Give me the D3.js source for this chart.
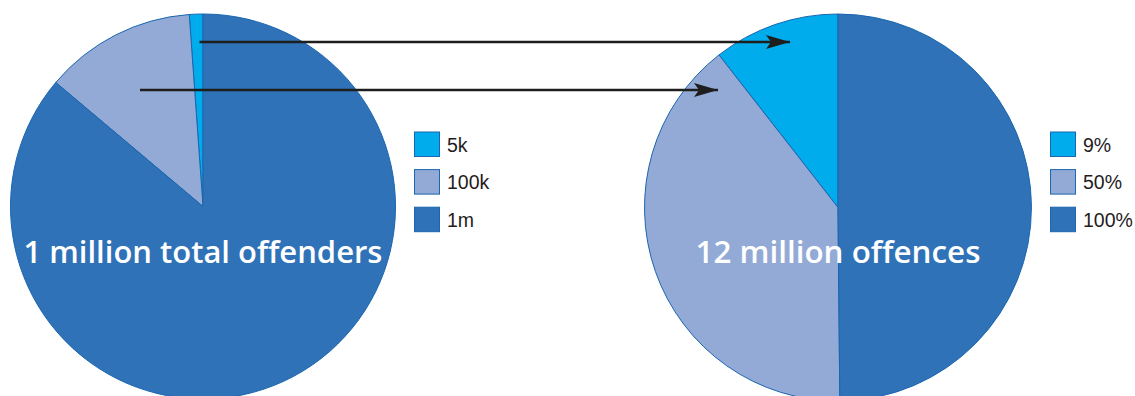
<!DOCTYPE html>
<html>
<head>
<meta charset="utf-8">
<script src="https://cdn.jsdelivr.net/npm/d3@7"></script>
<style>
  html, body { margin: 0; padding: 0; background: #fff; overflow: hidden; }
  svg { display: block; }
</style>
</head>
<body>
<svg id="chart" width="1135" height="396"></svg>
<script>
// ---- data ----
const offenderLabels = ["5k", "100k", "1m"];
const offenderShares = [1.14, 12.72, 86.14];      // share of pie (%) as drawn
const offenceLabels = ["9%", "50%", "100%"];
const offenceShares = [10.55, 39.6, 49.85];       // share of pie (%) as drawn
const pieTitles = ["1 million total offenders", "12 million offences"];
const colors = ["#00acec", "#94aad6", "#2f72b7"];

const svg = d3.select("#chart");

const defs = svg.append("defs");
defs.append("marker")
  .attr("id", "arrow")
  .attr("viewBox", "0 0 24 14")
  .attr("refX", 24).attr("refY", 7)
  .attr("markerWidth", 24).attr("markerHeight", 14)
  .attr("markerUnits", "userSpaceOnUse")
  .attr("orient", "auto")
  .append("path")
  .attr("d", "M0,0 L24,7 L0,14 L5,7 Z")
  .attr("fill", "#1e1e1e");

const pie = d3.pie().sort(null).value(d => d).startAngle(0).endAngle(-2 * Math.PI);

function drawPie(cx, cy, r, values, title, titleWidth, textY) {
  const g = svg.append("g").attr("transform", `translate(${cx},${cy})`);
  const arc = d3.arc().innerRadius(0).outerRadius(r);
  g.selectAll("path.slice")
    .data(pie(values))
    .join("path")
    .attr("class", "slice")
    .attr("d", arc)
    .attr("fill", (d, i) => colors[i])
    .attr("stroke", "#1a66b0")
    .attr("stroke-width", 1);
  const t = g.append("text")
    .attr("x", 0).attr("y", textY - cy)
    .attr("text-anchor", "middle")
    .attr("font-family", "'Open Sans', sans-serif")
    .attr("font-weight", 600)
    .attr("font-size", 28)
    .attr("fill", "#ffffff")
    .text(title);
  const len = t.node().getComputedTextLength();
  t.attr("font-size", 28 * titleWidth / len);
  return g;
}

drawPie(203, 206.5, 192.5, offenderShares, pieTitles[0], 359, 263);
drawPie(838, 207.5, 193.5, offenceShares, pieTitles[1], 285, 263);

function drawLegend(x, y0, labels) {
  const g = svg.append("g").attr("transform", `translate(${x},${y0})`);
  const rows = g.selectAll("g.row").data(labels).join("g")
    .attr("class", "row")
    .attr("transform", (d, i) => `translate(0,${i * 37.6})`);
  rows.append("rect")
    .attr("x", 0.5).attr("y", 0.5)
    .attr("width", 25).attr("height", 24.5)
    .attr("fill", (d, i) => colors[i])
    .attr("stroke", "#1a66b0").attr("stroke-width", 1);
  rows.append("text")
    .attr("x", 33).attr("y", 20)
    .attr("font-family", "'Liberation Sans', Arial, sans-serif")
    .attr("font-size", 19.5)
    .attr("fill", "#1f1c1d")
    .text(d => d);
}
drawLegend(414, 131.5, offenderLabels);
drawLegend(1050, 131.5, offenceLabels);

// arrows
const arrows = [
  { x1: 199.5, y: 42, x2: 790 },
  { x1: 140, y: 90, x2: 718 }
];
svg.selectAll("line.arrow").data(arrows).join("line")
  .attr("class", "arrow")
  .attr("x1", d => d.x1).attr("x2", d => d.x2)
  .attr("y1", d => d.y).attr("y2", d => d.y)
  .attr("stroke", "#1e1e1e").attr("stroke-width", 2.6)
  .attr("marker-end", "url(#arrow)");
</script>
</body>
</html>
